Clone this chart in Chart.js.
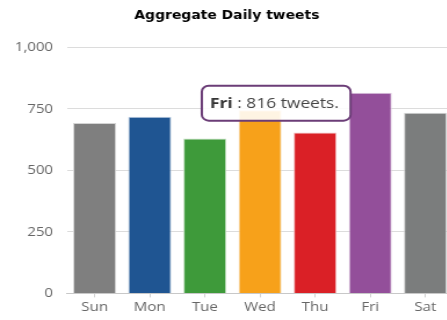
<!DOCTYPE html>
<html>
<head>
<meta charset="utf-8">
<script src="https://cdn.jsdelivr.net/npm/chart.js@4"></script>
<style>
  html, body { margin: 0; padding: 0; background: #fff; overflow: hidden; }
  /* the chart is laid out narrow and widened horizontally */
  #wrap { width: 396px; height: 320px; position: relative; transform: scaleX(1.16); transform-origin: 0 0; }
</style>
</head>
<body>
<div id="wrap"><canvas id="c"></canvas></div>
<script>
// Tweets per weekday
const days = ['Sun', 'Mon', 'Tue', 'Wed', 'Thu', 'Fri', 'Sat'];
const tweets = [693, 718, 630, 745, 654, 816, 734];
const barColors = ['#7f7f7f', '#1f5592', '#3e9a3a', '#f7a11a', '#da2026', '#934f9a', '#7b7d7d'];
const edgeColors = ['#d4d4d4', '#b9cbe0', '#c5e0c3', '#f6dcb4', '#f2c0c1', '#dcc6de', '#d2d3d3'];
const yTicks = [0, 250, 500, 750, 1000];
const highlightDay = 'Fri';

// Callout box next to the highlighted bar
const callout = {
  id: 'callout',
  afterDraw(chart) {
    const i = days.indexOf(highlightDay);
    const el = chart.getDatasetMeta(0).data[i];
    if (!el) return;
    const ctx = chart.ctx;
    const boldPart = days[i];
    const restPart = ' : ' + tweets[i] + ' tweets.';
    ctx.save();
    ctx.font = 'bold 15px "Open Sans"';
    const wb = ctx.measureText(boldPart).width;
    ctx.font = '15px "Open Sans"';
    const wr = ctx.measureText(restPart).width;
    const padL = 7, padR = 10, h = 35;
    const w = wb + wr + padL + padR;
    const right = el.x - 17;
    const cy = el.y + 10.5;
    const left = right - w, top = cy - h / 2;
    ctx.beginPath();
    ctx.roundRect(left, top, w, h, 6);
    ctx.fillStyle = 'rgba(255,255,255,0.88)';
    ctx.fill();
    ctx.lineWidth = 2;
    ctx.strokeStyle = '#6b3d77';
    ctx.stroke();
    ctx.textBaseline = 'middle';
    ctx.fillStyle = '#333';
    ctx.font = 'bold 15px "Open Sans"';
    ctx.fillText(boldPart, left + padL, cy + 1);
    ctx.font = '15px "Open Sans"';
    ctx.fillStyle = '#444';
    ctx.fillText(restPart, left + padL + wb, cy + 1);
    ctx.restore();
  }
};

new Chart(document.getElementById('c'), {
  type: 'bar',
  data: {
    labels: days,
    datasets: [{
      data: tweets,
      backgroundColor: barColors,
      borderColor: edgeColors,
      borderWidth: 1,
      categoryPercentage: 1,
      barPercentage: 0.78
    }]
  },
  options: {
    responsive: true,
    maintainAspectRatio: false,
    animation: false,
    layout: { padding: { left: 0.7, right: 5.5, top: 0, bottom: 3 } },
    plugins: {
      legend: { display: false },
      tooltip: { enabled: false },
      title: {
        display: true,
        text: 'Aggregate Daily tweets',
        color: '#000',
        font: { family: 'DejaVu Sans', size: 12, weight: 'bold' },
        padding: { top: 9, bottom: 24 }
      }
    },
    scales: {
      x: {
        grid: {
          display: true,
          drawOnChartArea: false,
          drawTicks: true,
          tickLength: 4,
          offset: false,
          color: '#d0d0d0'
        },
        border: { display: true, color: '#c8c8c8', width: 1 },
        ticks: {
          color: '#666',
          padding: 2,
          font: { family: 'Open Sans', size: 13 }
        }
      },
      y: {
        min: 0,
        max: 1000,
        afterBuildTicks(axis) { axis.ticks = yTicks.map(v => ({ value: v })); },
        grid: { color: '#dcdcdc', drawTicks: false },
        border: { display: false },
        ticks: {
          color: '#666',
          padding: 12,
          font: { family: 'Open Sans', size: 13 }
        }
      }
    }
  },
  plugins: [callout]
});
</script>
</body>
</html>
